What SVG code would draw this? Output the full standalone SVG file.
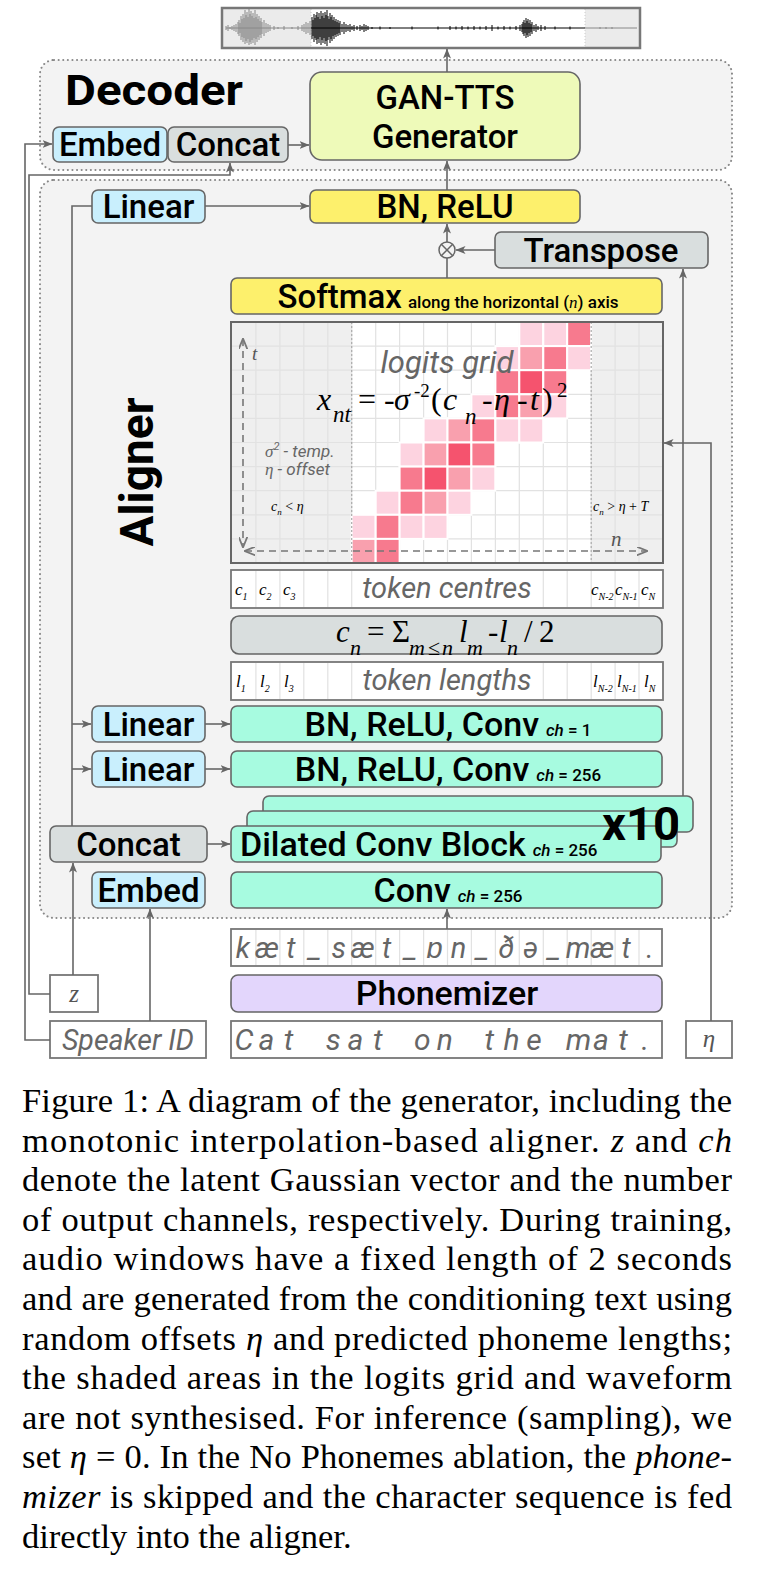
<svg xmlns="http://www.w3.org/2000/svg" width="764" height="1574" viewBox="0 0 764 1574">
<style>
.box{stroke:#666;stroke-width:1.6}
.wbox{fill:#fff;stroke:#777;stroke-width:1.8}
.blue{fill:#c9effd}.gray{fill:#d9dede}.yellow{fill:#fdf06c}.green{fill:#a7fbe0}.lime{fill:#eefab9}.purple{fill:#e3d6fc}
.cont{fill:#f3f3f3;stroke:#888;stroke-width:2;stroke-dasharray:0.1 4.5;stroke-linecap:round}
.lbl{font-family:Roboto,'Open Sans',sans-serif;font-weight:500;font-size:33px;fill:#000;text-anchor:middle}
.big{font-size:34px}
.sm{font-size:17px}
.it{font-style:italic}
.conn{stroke:#666;stroke-width:1.6;fill:none}
.gtxt{font-family:Roboto,'Open Sans',sans-serif;font-style:italic;fill:#666}
.math{font-family:'Liberation Serif','Times New Roman',serif;font-style:italic;fill:#000}
.up{font-style:normal}
.cap{font-family:'Liberation Serif','Times New Roman',serif;font-size:34.5px;fill:#000}
.div{stroke:#e2e2e2;stroke-width:1.2}
</style>
<defs>
<marker id="ah" viewBox="0 0 10 8" refX="9.5" refY="4" markerWidth="10" markerHeight="8" markerUnits="userSpaceOnUse" orient="auto"><path d="M0,0 L10,4 L0,8 L2.5,4 z" fill="#666"/></marker>
<marker id="ahd" viewBox="0 0 10 8" refX="9.5" refY="4" markerWidth="11" markerHeight="9" markerUnits="userSpaceOnUse" orient="auto-start-reverse"><path d="M0,0 L10,4 L0,8" fill="none" stroke="#777" stroke-width="1.6"/></marker>
</defs>

<!-- waveform -->
<g id="waveform">
<rect x="222" y="8" width="418" height="40" fill="#fff"/>
<rect x="223" y="9" width="88" height="38" fill="#ebebeb"/>
<rect x="585" y="9" width="54" height="38" fill="#ebebeb"/>
<path d="M311 9V47M585 9V47" stroke="#ccc" stroke-width="1" stroke-dasharray="1 2"/>
<path stroke="#888" stroke-width="1" fill="none" d="M226 28H311M226 26V30M228 25V31M230 27V29M232 26V30M234 25V31M236 24V32M238 22V34M239 20V36M240 23V33M241 16V40M242 19V37M243 14V42M244 18V38M245 10V44M246 15V41M247 12V43M248 17V39M249 9V45M250 14V42M251 11V44M252 16V40M253 13V43M254 18V38M255 10V45M256 17V39M257 14V42M258 19V37M259 16V40M260 21V35M261 18V38M262 22V34M264 20V36M266 23V33M268 24V32M270 25V31M274 26V30M278 27V29M284 26V30M292 27V29M298 26V30M302 25V31M304 24V32M306 22V34M308 23V33M310 21V35M585 28H637M600 27V29M606 27V29M612 27V29"/>
<path stroke="#000" stroke-width="1" fill="none" d="M311 28H585M312 17V39M313 20V36M314 14V42M315 18V38M316 15V40M317 12V44M318 17V39M319 13V43M320 19V37M321 11V45M322 16V40M323 13V43M324 18V38M325 12V44M326 15V41M327 10V46M328 16V40M329 19V37M330 13V43M331 17V39M332 15V41M333 20V36M334 17V39M335 21V35M336 19V37M337 22V34M338 20V36M339 23V33M340 21V35M342 24V32M344 22V34M346 24V32M348 25V31M350 24V32M352 26V30M354 25V31M357 26V30M360 25V31M362 26V30M364 24V32M366 25V31M368 26V30M372 27V29M380 26.5V29.5M390 27V29M412 26.5V29.5M438 26.5V29.5M450 26V30M456 26.5V29.5M462 26V30M468 26.5V29.5M474 26V30M480 26.5V29.5M486 26V30M492 25V31M498 26.5V29.5M504 26V30M510 26.5V29.5M516 26V30M520 25V31M522 24V32M523 22V34M524 20V36M525 23V33M526 18V38M527 21V35M528 19V37M529 23V33M530 20V36M531 24V32M532 22V34M534 25V31M536 24V32M538 26V30M541 25V31M545 26V30M555 26.5V29.5M570 26.5V29.5"/>
<rect x="222" y="8" width="418" height="40" fill="none" stroke="#777" stroke-width="2.5"/>
</g>

<!-- containers -->
<g id="decoder">
<rect class="cont" x="40" y="60" width="692" height="110" rx="14"/>
<text x="65" y="105" font-family="Roboto,'Open Sans',sans-serif" font-weight="700" font-size="42" textLength="178" lengthAdjust="spacingAndGlyphs">Decoder</text>
</g>
<g id="aligner">
<rect class="cont" x="40" y="180" width="692" height="738" rx="14"/>
<text x="153" y="472" transform="rotate(-90 153 472)" font-family="Roboto,'Open Sans',sans-serif" font-weight="700" font-size="46" text-anchor="middle">Aligner</text>
</g>

<!-- decoder nodes -->
<g id="embed-dec"><rect class="box blue" x="53" y="127" width="114" height="35" rx="6"/><text class="lbl" x="110" y="156">Embed</text></g>
<g id="concat-dec"><rect class="box gray" x="168" y="127" width="120" height="35" rx="6"/><text class="lbl" x="228" y="156">Concat</text></g>
<g id="gantts"><rect class="box lime" x="310" y="72" width="270" height="88" rx="12"/><text class="lbl" x="445" y="109">GAN-TTS</text><text class="lbl" x="445" y="148">Generator</text></g>

<!-- aligner nodes -->
<g id="linear0"><rect class="box blue" x="92" y="190" width="113" height="33" rx="6"/><text class="lbl" x="148.5" y="218">Linear</text></g>
<g id="bnrelu0"><rect class="box yellow" x="310" y="190" width="270" height="33" rx="6"/><text class="lbl" x="445" y="218">BN, ReLU</text></g>
<g id="mult"><circle cx="447" cy="250" r="8" fill="#f3f3f3" stroke="#666" stroke-width="1.5"/><path d="M441.3 244.3L452.7 255.7M452.7 244.3L441.3 255.7" stroke="#666" stroke-width="1.5"/></g>
<g id="transpose"><rect class="box gray" x="495" y="232" width="213" height="36" rx="6"/><text class="lbl" x="601" y="262">Transpose</text></g>
<g id="softmax"><rect class="box yellow" x="231" y="278" width="431" height="36" rx="6"/><text class="lbl" x="448" y="308" font-size="35">Softmax<tspan class="sm" dx="6">along the horizontal (</tspan><tspan class="sm" font-family="'Liberation Serif',serif" font-style="italic" font-weight="400" font-size="19">n</tspan><tspan class="sm">) axis</tspan></text></g>

<g id="logits-grid">
<rect x="231" y="322" width="121" height="241" fill="#efefef"/>
<rect x="351.7" y="322" width="239.5" height="241" fill="#fff"/>
<rect x="591.2" y="322" width="71.8" height="241" fill="#efefef"/>
<path class="div" d="M255.9 322V563M279.9 322V563M303.8 322V563M327.8 322V563M351.7 322V563M375.7 322V563M399.6 322V563M423.6 322V563M447.5 322V563M471.4 322V563M495.4 322V563M519.3 322V563M543.3 322V563M567.2 322V563M591.2 322V563M615.1 322V563M639 322V563M231 346.1H663M231 370.2H663M231 394.3H663M231 418.4H663M231 442.5H663M231 466.6H663M231 490.7H663M231 514.8H663M231 538.9H663" stroke-width="1.8"/>
<g stroke="#fff" stroke-width="2">
<rect x="519.3" y="322" width="23.9" height="24.1" fill="#fdd3e0"/><rect x="543.3" y="322" width="23.9" height="24.1" fill="#fdd3e0"/><rect x="567.2" y="322" width="23.9" height="24.1" fill="#f77a8e"/>
<rect x="495.4" y="346.1" width="23.9" height="24.1" fill="#fdd3e0"/><rect x="519.3" y="346.1" width="23.9" height="24.1" fill="#f9a0ae"/><rect x="543.3" y="346.1" width="23.9" height="24.1" fill="#f77a8e"/><rect x="567.2" y="346.1" width="23.9" height="24.1" fill="#fdd3e0"/>
<rect x="495.4" y="370.2" width="23.9" height="24.1" fill="#f77a8e"/><rect x="519.3" y="370.2" width="23.9" height="24.1" fill="#f5536e"/><rect x="543.3" y="370.2" width="23.9" height="24.1" fill="#f77a8e"/>
<rect x="471.4" y="394.3" width="23.9" height="24.1" fill="#fdd3e0"/><rect x="495.4" y="394.3" width="23.9" height="24.1" fill="#f77a8e"/><rect x="519.3" y="394.3" width="23.9" height="24.1" fill="#f9a0ae"/><rect x="543.3" y="394.3" width="23.9" height="24.1" fill="#fdd3e0"/>
<rect x="423.6" y="418.4" width="23.9" height="24.1" fill="#fdd3e0"/><rect x="447.5" y="418.4" width="23.9" height="24.1" fill="#f9a0ae"/><rect x="471.4" y="418.4" width="23.9" height="24.1" fill="#f77a8e"/><rect x="495.4" y="418.4" width="23.9" height="24.1" fill="#fdd3e0"/><rect x="519.3" y="418.4" width="23.9" height="24.1" fill="#fdd3e0"/>
<rect x="399.6" y="442.5" width="23.9" height="24.1" fill="#fdd3e0"/><rect x="423.6" y="442.5" width="23.9" height="24.1" fill="#f9a0ae"/><rect x="447.5" y="442.5" width="23.9" height="24.1" fill="#f5536e"/><rect x="471.4" y="442.5" width="23.9" height="24.1" fill="#f77a8e"/>
<rect x="399.6" y="466.6" width="23.9" height="24.1" fill="#f77a8e"/><rect x="423.6" y="466.6" width="23.9" height="24.1" fill="#f5536e"/><rect x="447.5" y="466.6" width="23.9" height="24.1" fill="#f9a0ae"/><rect x="471.4" y="466.6" width="23.9" height="24.1" fill="#fdd3e0"/>
<rect x="375.7" y="490.7" width="23.9" height="24.1" fill="#fdd3e0"/><rect x="399.6" y="490.7" width="23.9" height="24.1" fill="#f77a8e"/><rect x="423.6" y="490.7" width="23.9" height="24.1" fill="#f9a0ae"/><rect x="447.5" y="490.7" width="23.9" height="24.1" fill="#fdd3e0"/>
<rect x="351.7" y="514.8" width="23.9" height="24.1" fill="#fdd3e0"/><rect x="375.7" y="514.8" width="23.9" height="24.1" fill="#f77a8e"/><rect x="399.6" y="514.8" width="23.9" height="24.1" fill="#fdd3e0"/><rect x="423.6" y="514.8" width="23.9" height="24.1" fill="#fdd3e0"/>
<rect x="351.7" y="538.9" width="23.9" height="24.1" fill="#f9a0ae"/><rect x="375.7" y="538.9" width="23.9" height="24.1" fill="#f77a8e"/>
</g>
<path d="M351.7 322V563M591.2 322V563" stroke="#aaa" stroke-width="1.2" stroke-dasharray="2 2"/>
<path d="M243 339V547" stroke="#777" stroke-width="1.6" stroke-dasharray="7 5" fill="none" marker-start="url(#ahd)" marker-end="url(#ahd)"/>
<path d="M245 551H647" stroke="#777" stroke-width="1.6" stroke-dasharray="7 5" fill="none" marker-start="url(#ahd)" marker-end="url(#ahd)"/>
<text class="math" x="252" y="360" font-size="19" style="fill:#555">t</text>
<text class="math" x="611" y="546" font-size="21" style="fill:#555">n</text>
<text class="gtxt" x="447" y="373" font-size="31" text-anchor="middle">logits grid</text>
<text class="math" font-size="32"><tspan x="317" y="410">x</tspan><tspan x="333" y="422" font-size="23">nt</tspan><tspan class="up" x="358" y="410">=</tspan><tspan class="up" x="384" y="410">-</tspan><tspan x="394" y="410">σ</tspan><tspan class="up" x="414" y="397" font-size="19">-2</tspan><tspan class="up" x="431" y="410">(</tspan><tspan x="443" y="410">c</tspan><tspan x="465" y="424" font-size="23">n</tspan><tspan class="up" x="482" y="410">-</tspan><tspan x="494" y="410">η</tspan><tspan class="up" x="517" y="410">-</tspan><tspan x="530" y="410">t</tspan><tspan class="up" x="542" y="410">)</tspan><tspan class="up" x="557" y="397" font-size="21">2</tspan></text>
<text class="gtxt" x="265" y="457" font-size="17"><tspan font-family="'Liberation Serif',serif">σ</tspan><tspan font-size="11" dy="-7">2</tspan><tspan dy="7"> - temp.</tspan></text>
<text class="gtxt" x="265" y="475" font-size="17"><tspan font-family="'Liberation Serif',serif">η</tspan> - offset</text>
<text class="math" x="271" y="511" font-size="14">c<tspan font-size="9" dy="4">n</tspan><tspan class="up" dy="-4"> &lt; </tspan>η</text>
<text class="math" x="593" y="511" font-size="14">c<tspan font-size="9" dy="4">n</tspan><tspan class="up" dy="-4"> &gt; </tspan>η<tspan class="up"> + </tspan>T</text>
<rect x="231" y="322" width="432" height="241" fill="none" stroke="#666" stroke-width="2"/>
</g>

<g id="token-centres">
<rect class="wbox" x="231" y="570" width="432" height="38"/>
<path class="div" d="M255.9 571V607M279.9 571V607M303.8 571V607M327.8 571V607M351.7 571V607M591.2 571V607M615.1 571V607M639 571V607M543.3 571V607M567.2 571V607"/>
<text class="gtxt" x="447" y="598" font-size="29" text-anchor="middle">token centres</text>
<g class="math" font-size="17">
<text x="235" y="595">c<tspan font-size="10" dy="5">1</tspan></text>
<text x="259" y="595">c<tspan font-size="10" dy="5">2</tspan></text>
<text x="283" y="595">c<tspan font-size="10" dy="5">3</tspan></text>
<text x="591" y="595">c<tspan font-size="10" dy="5">N-2</tspan></text>
<text x="615" y="595">c<tspan font-size="10" dy="5">N-1</tspan></text>
<text x="641" y="595">c<tspan font-size="10" dy="5">N</tspan></text>
</g>
</g>
<g id="formula"><rect class="box gray" x="231" y="616" width="431" height="38" rx="8"/>
<text class="math" font-size="31"><tspan x="336" y="642">c</tspan><tspan x="350" y="655" font-size="22">n</tspan><tspan class="up" x="367" y="642">=</tspan><tspan class="up" x="392" y="642">Σ</tspan><tspan x="409" y="655" font-size="22">m</tspan><tspan class="up" x="428" y="655" font-size="22">≤</tspan><tspan x="442" y="655" font-size="22">n</tspan><tspan x="459" y="642">l</tspan><tspan x="467" y="655" font-size="22">m</tspan><tspan class="up" x="488" y="642">-</tspan><tspan x="499" y="642">l</tspan><tspan x="507" y="655" font-size="22">n</tspan><tspan class="up" x="524" y="642">/</tspan><tspan class="up" x="539" y="642">2</tspan></text>
</g>
<g id="token-lengths">
<rect class="wbox" x="231" y="662" width="432" height="38"/>
<path class="div" d="M255.9 663V699M279.9 663V699M303.8 663V699M327.8 663V699M351.7 663V699M591.2 663V699M615.1 663V699M639 663V699M543.3 663V699M567.2 663V699"/>
<text class="gtxt" x="447" y="690" font-size="29" text-anchor="middle">token lengths</text>
<g class="math" font-size="17">
<text x="236" y="687">l<tspan font-size="10" dy="5">1</tspan></text>
<text x="260" y="687">l<tspan font-size="10" dy="5">2</tspan></text>
<text x="284" y="687">l<tspan font-size="10" dy="5">3</tspan></text>
<text x="593" y="687">l<tspan font-size="10" dy="5">N-2</tspan></text>
<text x="617" y="687">l<tspan font-size="10" dy="5">N-1</tspan></text>
<text x="644" y="687">l<tspan font-size="10" dy="5">N</tspan></text>
</g>
</g>

<g id="linear1"><rect class="box blue" x="92" y="706" width="113" height="36" rx="6"/><text class="lbl" x="148.5" y="736">Linear</text></g>
<g id="conv1"><rect class="box green" x="231" y="706" width="431" height="36" rx="6"/><text class="lbl big" x="448" y="736">BN, ReLU, Conv<tspan class="sm" dx="7"><tspan class="it">ch</tspan> = 1</tspan></text></g>
<g id="linear2"><rect class="box blue" x="92" y="751" width="113" height="36" rx="6"/><text class="lbl" x="148.5" y="781">Linear</text></g>
<g id="conv2"><rect class="box green" x="231" y="751" width="431" height="36" rx="6"/><text class="lbl big" x="448" y="781">BN, ReLU, Conv<tspan class="sm" dx="7"><tspan class="it">ch</tspan> = 256</tspan></text></g>
<g id="dilated">
<rect class="box green" x="263" y="796" width="430" height="36" rx="6"/>
<rect class="box green" x="247" y="811" width="430" height="36" rx="6"/>
<rect class="box green" x="231" y="826" width="430" height="36" rx="6"/>
<text class="lbl big" x="240" y="856" style="text-anchor:start">Dilated Conv Block<tspan class="sm" dx="7"><tspan class="it">ch</tspan> = 256</tspan></text>
<text x="641" y="840" font-family="Roboto,'Open Sans',sans-serif" font-weight="700" font-size="47" text-anchor="middle">x10</text>
</g>
<g id="concat-al"><rect class="box gray" x="50" y="826" width="157" height="36" rx="6"/><text class="lbl" x="128.5" y="856">Concat</text></g>
<g id="embed-al"><rect class="box blue" x="92" y="872" width="113" height="36" rx="6"/><text class="lbl" x="148.5" y="902">Embed</text></g>
<g id="conv0"><rect class="box green" x="231" y="872" width="431" height="36" rx="6"/><text class="lbl big" x="448" y="902">Conv<tspan class="sm" dx="7"><tspan class="it">ch</tspan> = 256</tspan></text></g>

<!-- inputs -->
<g id="phonemes">
<rect class="wbox" x="231" y="929" width="431" height="37"/>
<path class="div" d="M255.9 930V965M279.9 930V965M303.8 930V965M327.8 930V965M351.7 930V965M375.7 930V965M399.6 930V965M423.6 930V965M447.5 930V965M471.4 930V965M495.4 930V965M519.3 930V965M543.3 930V965M567.2 930V965M591.2 930V965M615.1 930V965M639 930V965"/>
<text class="gtxt" font-size="29" text-anchor="middle" y="958" x="243 266.9 290.9 314.8 338.8 362.7 386.6 410.6 434.5 458.5 482.4 506.3 530.3 554.2 578.2 602.1 626 650">kæt_sæt_ɒn_ðə_mæt.</text>
</g>
<g id="phonemizer"><rect class="box purple" x="231" y="975" width="431" height="37" rx="7"/><text class="lbl big" x="447" y="1005">Phonemizer</text></g>
<g id="text-in"><rect class="wbox" x="231" y="1021" width="431" height="37"/>
<text class="gtxt" font-size="30" text-anchor="middle" y="1050" x="244 266.3 288.6 310.9 333.2 355.5 377.8 400.1 422.4 444.7 467 489.3 511.6 533.9 556.2 578.5 600.8 623.1 645.4">Cat sat on the mat.</text></g>
<g id="z-in"><rect class="wbox" x="50" y="975" width="48" height="37"/><text class="math" x="74" y="1002" font-size="25" text-anchor="middle" style="fill:#555">z</text></g>
<g id="speaker-in"><rect class="wbox" x="50" y="1021" width="156" height="37"/><text class="gtxt" x="128" y="1050" font-size="28.5" text-anchor="middle">Speaker ID</text></g>
<g id="eta-in"><rect class="wbox" x="686" y="1021" width="46" height="37"/><text class="math" x="709" y="1047" font-size="25" text-anchor="middle" style="fill:#555">η</text></g>

<!-- connectors -->
<g id="connectors" class="conn">
<path d="M447 72V49" marker-end="url(#ah)"/>
<path d="M447 190V161" marker-end="url(#ah)"/>
<path d="M288 145H309" marker-end="url(#ah)"/>
<path d="M50 1040H25V144H52" marker-end="url(#ah)"/>
<path d="M50 994H29V175H230V163" marker-end="url(#ah)"/>
<path d="M150 1021V909" marker-end="url(#ah)"/>
<path d="M73 975V863" marker-end="url(#ah)"/>
<path d="M72 826V206H92"/>
<path d="M72 724H91" marker-end="url(#ah)"/>
<path d="M72 769H91" marker-end="url(#ah)"/>
<path d="M205 206H309" marker-end="url(#ah)"/>
<path d="M205 724H230" marker-end="url(#ah)"/>
<path d="M205 769H230" marker-end="url(#ah)"/>
<path d="M207 844H230" marker-end="url(#ah)"/>
<path d="M447 929V909" marker-end="url(#ah)"/>
<path d="M447 278V258"/>
<path d="M447 242V224" marker-end="url(#ah)"/>
<path d="M495 250H456" marker-end="url(#ah)"/>
<path d="M683 796V269" marker-end="url(#ah)"/>
<path d="M711 1021V443H664" marker-end="url(#ah)"/>
</g>

<!-- caption -->
<g id="caption" class="cap">
<text x="22" y="1112" textLength="710" lengthAdjust="spacing">Figure 1: A diagram of the generator, including the</text>
<text x="22" y="1151.6" textLength="710" lengthAdjust="spacing">monotonic interpolation-based aligner.  <tspan font-style="italic">z</tspan> and <tspan font-style="italic">ch</tspan></text>
<text x="22" y="1191.2" textLength="710" lengthAdjust="spacing">denote the latent Gaussian vector and the number</text>
<text x="22" y="1230.8" textLength="710" lengthAdjust="spacing">of output channels, respectively. During training,</text>
<text x="22" y="1270.4" textLength="710" lengthAdjust="spacing">audio windows have a fixed length of 2 seconds</text>
<text x="22" y="1310" textLength="710" lengthAdjust="spacing">and are generated from the conditioning text using</text>
<text x="22" y="1349.6" textLength="710" lengthAdjust="spacing">random offsets <tspan font-style="italic">η</tspan> and predicted phoneme lengths;</text>
<text x="22" y="1389.2" textLength="710" lengthAdjust="spacing">the shaded areas in the logits grid and waveform</text>
<text x="22" y="1428.8" textLength="710" lengthAdjust="spacing">are not synthesised. For inference (sampling), we</text>
<text x="22" y="1468.4" textLength="710" lengthAdjust="spacing">set <tspan font-style="italic">η</tspan> = 0. In the No Phonemes ablation, the <tspan font-style="italic">phone-</tspan></text>
<text x="22" y="1508" textLength="710" lengthAdjust="spacing"><tspan font-style="italic">mizer</tspan> is skipped and the character sequence is fed</text>
<text x="22" y="1547.6">directly into the aligner.</text>
</g>
</svg>
